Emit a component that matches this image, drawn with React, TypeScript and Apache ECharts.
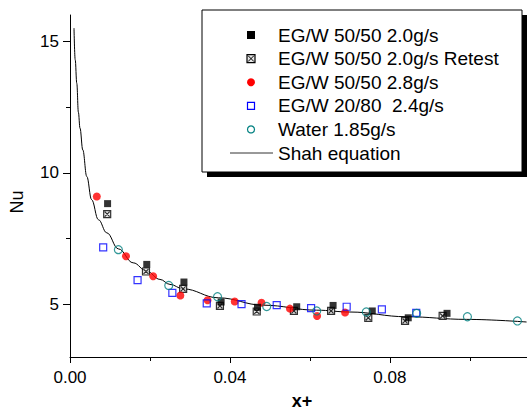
import React, { useEffect, useRef } from 'react';
import * as echarts from 'echarts';

// x+ , Nu pairs
const egw5050_20: number[][] = [
  [0.0094, 8.83], [0.0192, 6.52], [0.0285, 5.85], [0.0378, 5.09], [0.0469, 4.89],
  [0.0567, 4.91], [0.0658, 4.96], [0.0756, 4.75], [0.0846, 4.49], [0.0943, 4.66],
];
const egw5050_20_retest: number[][] = [
  [0.0093, 8.43], [0.019, 6.25], [0.0283, 5.59], [0.0375, 4.94], [0.0467, 4.73],
  [0.056, 4.75], [0.0653, 4.75], [0.0746, 4.49], [0.0838, 4.37], [0.0932, 4.56],
];
const egw5050_28: number[][] = [
  [0.0067, 9.1], [0.014, 6.83], [0.0208, 6.07], [0.0276, 5.34], [0.0344, 5.16],
  [0.0412, 5.11], [0.0479, 5.06], [0.055, 4.84], [0.0618, 4.56], [0.0688, 4.69],
];
const egw2080_24: number[][] = [
  [0.0083, 7.17], [0.0169, 5.92], [0.0256, 5.44], [0.0342, 5.04], [0.0429, 5.01],
  [0.0517, 4.97], [0.0603, 4.86], [0.0692, 4.91], [0.078, 4.81], [0.0866, 4.68],
];
const water185: number[][] = [
  [0.0121, 7.08], [0.0247, 5.72], [0.0369, 5.29], [0.0492, 4.92], [0.0617, 4.75],
  [0.0741, 4.71], [0.0867, 4.66], [0.0994, 4.53], [0.1119, 4.37],
];
const shahCurve: number[][] = [
  [0.001, 15.5], [0.0013, 14.3], [0.0017, 13.4], [0.0021, 12.3], [0.0025, 11.7],
  [0.0032, 10.87], [0.0042, 9.86], [0.0054, 8.98], [0.0071, 8.22], [0.0092, 7.72],
  [0.0121, 7.11], [0.0158, 6.58], [0.0192, 6.26], [0.0225, 5.95], [0.025, 5.76],
  [0.0283, 5.59], [0.0371, 5.25], [0.0483, 4.97], [0.0617, 4.78], [0.07, 4.71],
  [0.0842, 4.53], [0.0992, 4.43], [0.1142, 4.33],
];

const seriesNames = [
  'EG/W 50/50 2.0g/s',
  'EG/W 50/50 2.0g/s Retest',
  'EG/W 50/50 2.8g/s',
  'EG/W 20/80  2.4g/s',
  'Water 1.85g/s',
  'Shah equation',
];
const xTicks = [0, 0.04, 0.08];
const xMinorTicks = [0.02, 0.06, 0.1];
const yTicks = [5, 10, 15];
const yMinorTicks = [7.5, 12.5];
const xName = 'x+';
const yName = 'Nu';

export default function App() {
  const ref = useRef<HTMLDivElement>(null);
  useEffect(() => {
    const chart = echarts.init(ref.current!, null, { renderer: 'svg' });
    const font = '"Liberation Sans", Arial, sans-serif';
    const retestPath = 'path://M0,0L10,0L10,10L0,10Z M1.5,1.5L8.5,8.5 M8.5,1.5L1.5,8.5';
    const xMin = 0, xMax = 0.1143, yMin = 3, yMax = 16;

    const rowY = [35, 58.6, 82.2, 105.8, 129.4, 153];
    const symX = 251;
    const textX = 278;
    const Z = 12;
    const legendSymbols: any[] = [
      { type: 'rect', z: Z, shape: { x: symX - 4, y: rowY[0] - 4, width: 8, height: 8 }, style: { fill: '#000' } },
      { type: 'rect', z: Z, shape: { x: symX - 4, y: rowY[1] - 4, width: 8, height: 8 }, style: { fill: '#e6e6e6', stroke: '#000', lineWidth: 1.2 } },
      { type: 'line', z: Z + 1, shape: { x1: symX - 3, y1: rowY[1] - 3, x2: symX + 3, y2: rowY[1] + 3 }, style: { stroke: '#000', lineWidth: 1 } },
      { type: 'line', z: Z + 1, shape: { x1: symX + 3, y1: rowY[1] - 3, x2: symX - 3, y2: rowY[1] + 3 }, style: { stroke: '#000', lineWidth: 1 } },
      { type: 'circle', z: Z, shape: { cx: symX, cy: rowY[2], r: 4 }, style: { fill: '#ff0000' } },
      { type: 'rect', z: Z, shape: { x: symX - 3.5, y: rowY[3] - 3.5, width: 7, height: 7 }, style: { fill: '#fff', stroke: '#0000ff', lineWidth: 1.2 } },
      { type: 'circle', z: Z, shape: { cx: symX, cy: rowY[4], r: 3.5 }, style: { fill: '#fff', stroke: '#008080', lineWidth: 1.2 } },
      { type: 'line', z: Z, shape: { x1: 230, y1: rowY[5], x2: 273, y2: rowY[5] }, style: { stroke: '#333', lineWidth: 1 } },
    ];
    const legendTexts = seriesNames.map((n, i) => ({
      type: 'text',
      z: Z,
      x: textX,
      y: rowY[i],
      style: { text: n, fontSize: 19, fontFamily: font, fill: '#000', textVerticalAlign: 'middle', textAlign: 'left' },
    }));

    const option: any = {
      animation: false,
      backgroundColor: '#fff',
      grid: { left: 70, right: 0, top: 15, bottom: 56, containLabel: false },
      xAxis: [
        {
          type: 'value', min: xMin, max: xMax,
          axisLine: { show: true, lineStyle: { color: '#000', width: 1 } },
          axisTick: { show: true, length: 6, customValues: xTicks, lineStyle: { color: '#000' } },
          axisLabel: {
            customValues: xTicks, margin: 12, color: '#000', fontSize: 17, fontFamily: font,
            formatter: (v: number) => v.toFixed(2),
          },
          splitLine: { show: false },
        },
        {
          type: 'value', min: xMin, max: xMax, position: 'bottom',
          axisLine: { show: false },
          axisTick: { show: true, length: 4, customValues: xMinorTicks, lineStyle: { color: '#000' } },
          axisLabel: { show: false },
          splitLine: { show: false },
        },
      ],
      yAxis: [
        {
          type: 'value', min: yMin, max: yMax,
          axisLine: { show: true, lineStyle: { color: '#000', width: 1 } },
          axisTick: { show: true, length: 7, customValues: yTicks, lineStyle: { color: '#000' } },
          axisLabel: { customValues: yTicks, margin: 11, color: '#000', fontSize: 17, fontFamily: font },
          splitLine: { show: false },
        },
        {
          type: 'value', min: yMin, max: yMax, position: 'left',
          axisLine: { show: false },
          axisTick: { show: true, length: 4, customValues: yMinorTicks, lineStyle: { color: '#000' } },
          axisLabel: { show: false },
          splitLine: { show: false },
        },
      ],
      series: [
        {
          name: seriesNames[5], type: 'line', data: shahCurve, smooth: 0.4, smoothMonotone: 'x',
          symbol: 'none', showSymbol: false,
          lineStyle: { color: '#000', width: 1 }, z: 1,
        },
        {
          name: seriesNames[0], type: 'scatter', data: egw5050_20, symbol: 'rect', symbolSize: 7,
          itemStyle: { color: '#000' }, z: 3,
        },
        {
          name: seriesNames[1], type: 'scatter', data: egw5050_20_retest, symbol: retestPath, symbolSize: 7,
          itemStyle: { color: '#e6e6e6', borderColor: '#000', borderWidth: 1.2 }, z: 2,
        },
        {
          name: seriesNames[2], type: 'scatter', data: egw5050_28, symbol: 'circle', symbolSize: 8,
          itemStyle: { color: '#ff0000' }, z: 2,
        },
        {
          name: seriesNames[3], type: 'scatter', data: egw2080_24, symbol: 'rect', symbolSize: 7,
          itemStyle: { color: 'rgba(255,255,255,0)', borderColor: '#0000ff', borderWidth: 1.2 }, z: 4,
        },
        {
          name: seriesNames[4], type: 'scatter', data: water185, symbol: 'circle', symbolSize: 8,
          itemStyle: { color: 'rgba(255,255,255,0)', borderColor: '#008080', borderWidth: 1.2 }, z: 4,
        },
      ],
      graphic: [
        { type: 'rect', shape: { x: 207, y: 15, width: 320, height: 162 }, style: { fill: '#000' }, z: 10 },
        { type: 'rect', shape: { x: 202, y: 10, width: 320, height: 162 }, style: { fill: '#fff', stroke: '#000', lineWidth: 1 }, z: 11 },
        ...legendSymbols,
        ...legendTexts,
        {
          type: 'text', x: 17, y: 202, rotation: Math.PI / 2, z: Z,
          style: { text: yName, fontSize: 18, fontFamily: font, fill: '#000', textAlign: 'center', textVerticalAlign: 'middle' },
        },
        {
          type: 'text', x: 302, y: 401, z: Z,
          style: { text: xName, fontSize: 18, fontWeight: 'bold', fontFamily: font, fill: '#000', textAlign: 'center', textVerticalAlign: 'middle' },
        },
      ],
    };
    chart.setOption(option);
    return () => chart.dispose();
  }, []);
  return <div ref={ref} style={{ position: 'absolute', left: 0, top: 0, width: 527, height: 413 }} />;
}
